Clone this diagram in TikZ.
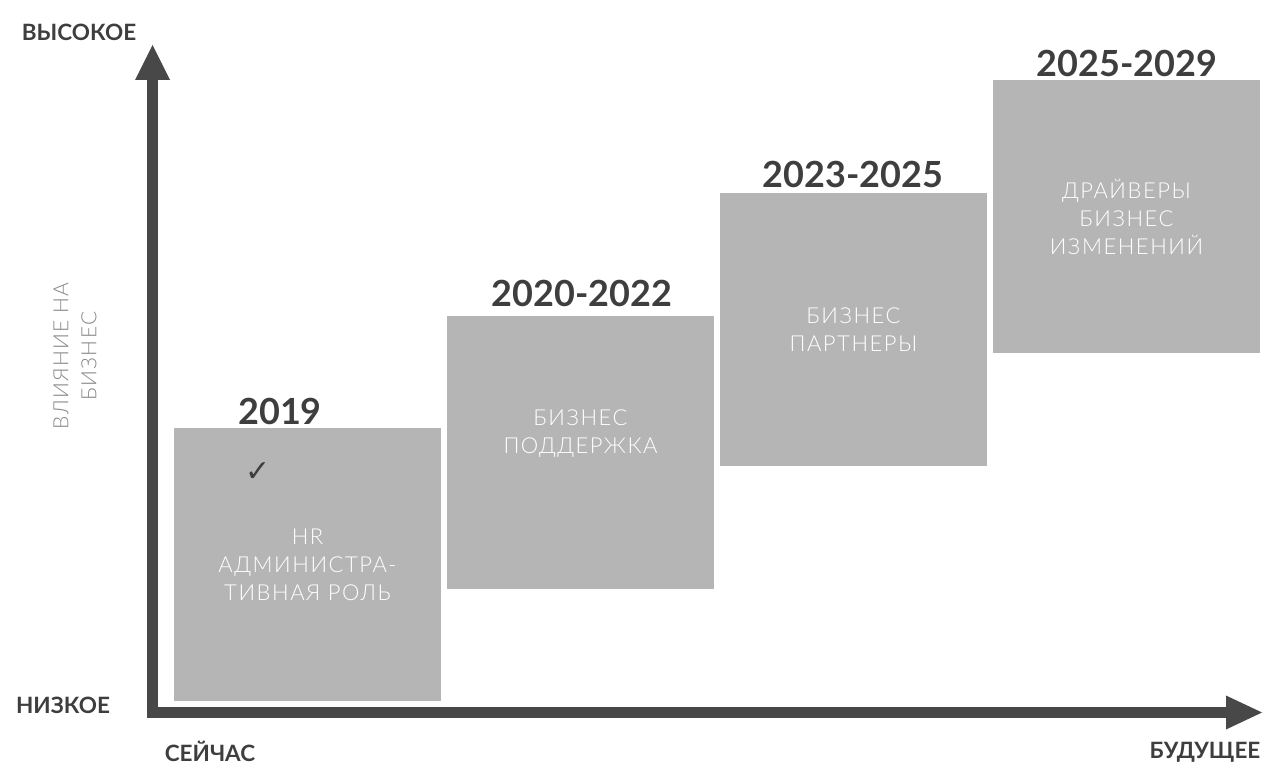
\documentclass[tikz,border=0pt]{standalone}
\usepackage{fontspec}
\setmainfont{Lato}
\newfontfamily\lightfont{Lato Light}[LetterSpace=7]
\newfontfamily\sidefont{Lato Light}[LetterSpace=6]
\newfontfamily\symfont{DejaVu Sans}
\usetikzlibrary{arrows.meta}
\definecolor{boxgray}{RGB}{181,181,181}
\definecolor{axisgray}{RGB}{72,72,72}
\definecolor{labeldark}{RGB}{62,62,62}
\definecolor{sidegray}{RGB}{135,135,135}
\begin{document}
\begin{tikzpicture}[x=1pt,y=-1pt,
  stage/.style={draw=none,fill=boxgray,anchor=north west,minimum width=267pt,minimum height=273pt,inner sep=0pt,outer sep=0pt},
  stagetxt/.style={align=center,text=white,inner sep=0pt,font=\lightfont\fontsize{22}{28}\selectfont},
  yearlbl/.style={text=labeldark,inner sep=0pt,font=\bfseries\fontsize{36}{38}\selectfont},
  axislbl/.style={text=labeldark,inner sep=0pt,font=\bfseries\fontsize{22.5}{24}\selectfont},
  axis/.style={draw=axisgray,line width=11pt,line join=miter,
    {Triangle[width=35pt,length=35pt,line width=0pt]}-{Triangle[width=34pt,length=36pt,line width=0pt]}}
]
\useasboundingbox (0,0) rectangle (1274,767);
% stages
\node[stage] (b1) at (174,428) {};
\node[stage] (b2) at (447,316) {};
\node[stage] (b3) at (720,193) {};
\node[stage] (b4) at (993,80) {};
\node[stagetxt] (t1) at (b1.center) {HR\\АДМИНИСТРА-\\ТИВНАЯ РОЛЬ};
\node[stagetxt] (t2) at ([yshift=19pt]b2.center) {БИЗНЕС\\ПОДДЕРЖКА};
\node[stagetxt] (t3) at (b3.center) {БИЗНЕС\\ПАРТНЕРЫ};
\node[stagetxt] (t4) at (b4.center) {ДРАЙВЕРЫ\\БИЗНЕС\\ИЗМЕНЕНИЙ};
% year labels
\node[yearlbl] (y1) at (280,411) {2019};
\node[yearlbl] (y2) at (582,293) {2020-2022};
\node[yearlbl] (y3) at (853,174) {2023-2025};
\node[yearlbl] (y4) at (1127,63) {2025-2029};
% check mark
\node[text=labeldark,inner sep=0pt,font=\symfont\fontsize{30}{30}\selectfont] (chk) at (258,472) {✓};
% axes
\coordinate (corner) at (152.5,712.5);
\coordinate (ytip) at (152.5,45);
\coordinate (xtip) at (1262,712.5);
\draw[axis] (ytip) -- (corner) -- (xtip);
% axis labels
\node[axislbl] (high) at (79,32) {ВЫСОКОЕ};
\node[axislbl] (low) at (63,705) {НИЗКОЕ};
\node[axislbl] (now) at (210,751) {СЕЙЧАС};
\node[axislbl] (future) at (1205,752) {БУДУЩЕЕ};
\node[text=sidegray,inner sep=0pt,rotate=90,align=center,font=\sidefont\fontsize{21}{28}\selectfont] (impact) at (75,356) {ВЛИЯНИЕ НА\\БИЗНЕС};
\end{tikzpicture}
\end{document}
